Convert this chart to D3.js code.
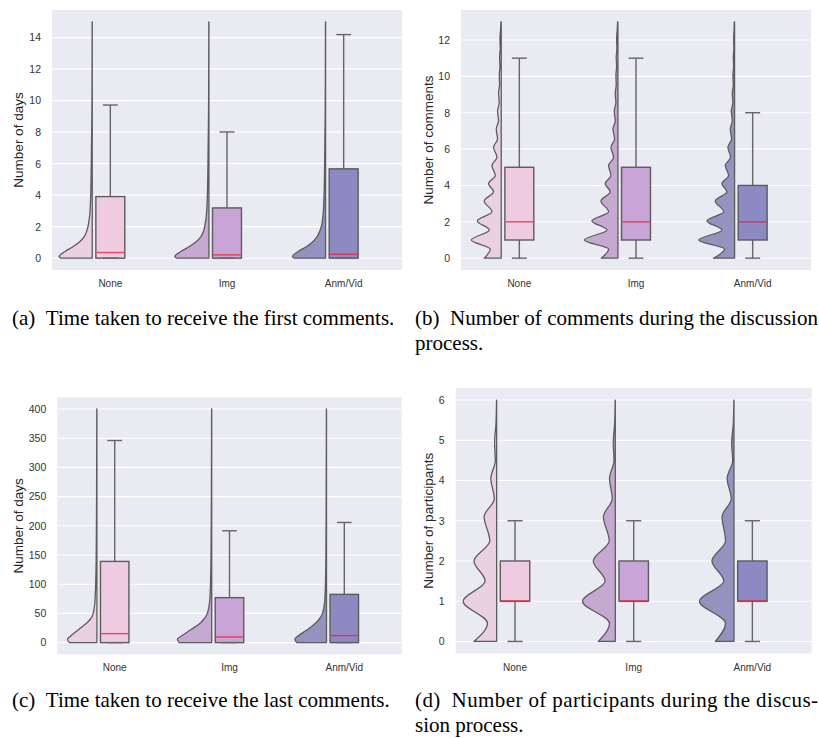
<!DOCTYPE html>
<html lang="en">
<head>
  <meta charset="UTF-8">
  <title>Discussion timing violins</title>
  <script src="https://d3js.org/d3.v7.min.js"></script>
  <style>
    body {
      margin: 0;
      background: #fff;
    }
    svg {
      display: block;
    }
    .tick-y {
      font-family: "Liberation Sans", Arial, sans-serif;
      font-size: 10.5px;
      fill: #333;
    }
    .tick-x {
      font-family: "Liberation Sans Narrow", "Liberation Sans", sans-serif;
      font-size: 10px;
      fill: #333;
    }
    .axis-label {
      font-family: "Liberation Sans", Arial, sans-serif;
      font-size: 13.5px;
      fill: #262626;
    }
    .caption {
      font-family: "Liberation Serif", "Times New Roman", serif;
      font-size: 21px;
      fill: #000;
    }
  </style>
</head>
<body>
  <svg width="819" height="738"></svg>
  <script>
    const cats = ["None", "Img", "Anm/Vid"];

    // box stats per category: [low whisker, q1, median, q3, high whisker]
    const aBox = [[0, 0, 0.36, 3.91, 9.72], [0, 0, 0.21, 3.19, 8.01], [0, 0, 0.25, 5.67, 14.19]];
    const bBox = [[0, 1, 2, 5, 11], [0, 1, 2, 5, 11], [0, 1, 2, 4, 8]];
    const cBox = [[0, 0, 15.4, 139, 346], [0, 0, 9.7, 77, 191.5], [0, 0, 12, 82.6, 205.7]];
    const dBox = [[0, 1, 1, 2, 3], [0, 1, 1, 2, 3], [0, 1, 1, 2, 3]];

    // kde samples (value positions and relative density)
    const aKdeY = [0, 0.1, 0.42, 0.74, 1.06, 1.37, 1.69, 2.0, 2.64, 3.7, 5.8, 10, 15];
    const aKde = [
      [31.3, 33.3, 27.3, 19, 12.3, 8, 5.7, 4.3, 2.7, 1.7, 1, 0.3, 0.1],
      [32.3, 34.3, 28, 19.5, 12.5, 8, 5.5, 4.3, 2.7, 1.7, 1, 0.3, 0.1],
      [31.3, 33.3, 27.5, 19, 12.5, 8.5, 6, 4.3, 2.7, 1.7, 1, 0.3, 0.1]
    ];

    const bKdeY = [0, 0.5, 1, 1.55, 2.05, 2.55, 3.15, 3.65, 4.1, 4.55, 5.1, 5.55, 6.1, 6.55,
                   7.1, 7.55, 8.1, 8.55, 9.05, 9.55, 10.05, 10.55, 11.05, 11.55, 12.05, 12.55, 13];
    const bKde = [
      [17, 11, 30, 12, 24, 9.3, 17, 7.7, 12.7, 6, 9.3, 4.3, 7.7, 3.7, 5, 2.7, 3.7, 2, 2.7, 1.7, 2, 1.3, 1.7, 1, 1.3, 0.7, 0.3],
      [16.7, 9.3, 33.7, 11, 26, 9.3, 17, 7.7, 12.7, 7, 9.3, 4.3, 7, 3.3, 5, 2.7, 3.7, 2, 2.7, 1.7, 2, 1.3, 1.7, 1, 1.3, 0.7, 0.3],
      [21, 10, 36, 12.7, 27.7, 11, 19.3, 7.7, 12.7, 6, 9.3, 4, 6.7, 3, 4.3, 2.3, 3.3, 1.7, 2.3, 1.3, 1.7, 1, 1.3, 0.7, 1, 0.5, 0.3]
    ];

    const cKdeY = [0, 5.7, 11.4, 22.8, 34, 40, 45.6, 57, 80, 148, 262, 400];
    const cKde = [
      [28, 30, 26.7, 18.3, 10, 6.7, 4.7, 3, 1.7, 0.7, 0.3, 0.1],
      [33, 35, 30.7, 20.7, 11.3, 8, 5.7, 3.3, 1.7, 0.7, 0.3, 0.1],
      [30.3, 32.3, 29, 19, 10.7, 7.5, 5.3, 3, 1.5, 0.6, 0.3, 0.1]
    ];

    const dKdeY = [0, 0.45, 1, 1.5, 2, 2.5, 3.1, 3.55, 4.05, 4.5, 4.95, 5.4, 6];
    const dKde = [
      [22.3, 9, 33, 11.3, 22.3, 6.7, 12.3, 2.3, 5.7, 1.3, 2, 0.7, 0.1],
      [16.7, 5.7, 32.3, 10, 21.7, 6, 11.7, 3, 5.7, 1.3, 2, 0.7, 0.1],
      [18.3, 8.3, 34, 10, 21.7, 8.3, 11.7, 2.7, 6.7, 1.3, 2.3, 0.7, 0.1]
    ];

    const violinFill = ["#e9d1e2", "#c6a9d0", "#9592c0"];
    const boxFill = ["#efcbe2", "#c9a4d6", "#8d89c2"];
    const edge = "#5c5c5c";

    const panels = [
      {left: 52, right: 402, top: 10, bottom: 270, dom: [-0.75, 15.75], ticks: d3.range(0, 15, 2),
       label: "Number of days", labelX: 18, kdeY: aKdeY, kde: aKde, box: aBox},
      {left: 461, right: 811, top: 10, bottom: 270, dom: [-0.65, 13.65], ticks: d3.range(0, 13, 2),
       label: "Number of comments", labelX: 428, kdeY: bKdeY, kde: bKde, box: bBox},
      {left: 57.3, right: 401.7, top: 397.3, bottom: 654.3, dom: [-20, 420], ticks: d3.range(0, 401, 50),
       label: "Number of days", labelX: 18, kdeY: cKdeY, kde: cKde, box: cBox},
      {left: 455.7, right: 811.7, top: 388, bottom: 653.5, dom: [-0.3, 6.3], ticks: d3.range(0, 7, 1),
       label: "Number of participants", labelX: 428, kdeY: dKdeY, kde: dKde, box: dBox}
    ];

    const svg = d3.select("svg");

    panels.forEach(p => {
      const g = svg.append("g");
      const x = d3.scaleLinear().domain([-0.5, 2.5]).range([p.left, p.right]);
      const y = d3.scaleLinear().domain(p.dom).range([p.bottom, p.top]);
      const catPx = x(1) - x(0);
      const w = d3.scaleLinear().domain([0, 36]).range([0, catPx * 0.308]);

      g.append("rect")
        .attr("x", p.left).attr("y", p.top)
        .attr("width", p.right - p.left).attr("height", p.bottom - p.top)
        .attr("fill", "#eaeaf2");

      const yAxis = d3.axisLeft(y).tickValues(p.ticks).tickFormat(d3.format("d"))
        .tickSize(0).tickPadding(11);
      const ax = g.append("g").attr("transform", `translate(${p.left},0)`).call(yAxis);
      ax.select(".domain").remove();
      ax.selectAll("text").attr("class", "tick-y").attr("fill", null);

      g.selectAll(".grid")
        .data(p.ticks)
        .enter().append("line")
          .attr("x1", p.left).attr("x2", p.right)
          .attr("y1", d => y(d)).attr("y2", d => y(d))
          .attr("stroke", "#fff").attr("stroke-width", 1.1);

      g.append("text")
        .attr("class", "axis-label")
        .attr("text-anchor", "middle")
        .attr("transform", `translate(${p.labelX},${(p.top + p.bottom) / 2}) rotate(-90)`)
        .attr("dy", "0.35em")
        .text(p.label);

      cats.forEach((c, i) => {
        const vEdge = x(i - 0.155);
        const pts = p.kdeY.map((v, k) => [v, p.kde[i][k]]);
        const area = d3.area()
          .curve(d3.curveMonotoneY)
          .y(d => y(d[0]))
          .x0(vEdge)
          .x1(d => vEdge - w(d[1]));
        g.append("path")
          .attr("d", area(pts))
          .attr("fill", violinFill[i])
          .attr("stroke", edge)
          .attr("stroke-width", 1.3)
          .attr("stroke-linejoin", "round");

        const [lo, q1, med, q3, hi] = p.box[i];
        const cx = x(i), bw = catPx * 0.248, cap = catPx * 0.128;

        g.append("line")
          .attr("x1", cx).attr("x2", cx).attr("y1", y(q3)).attr("y2", y(hi))
          .attr("stroke", "#666").attr("stroke-width", 1.4);
        g.append("line")
          .attr("x1", cx).attr("x2", cx).attr("y1", y(lo)).attr("y2", y(q1))
          .attr("stroke", "#666").attr("stroke-width", 1.4);
        g.append("rect")
          .attr("x", cx - bw / 2).attr("y", y(q3))
          .attr("width", bw).attr("height", Math.max(0, y(q1) - y(q3)))
          .attr("fill", boxFill[i])
          .attr("stroke", edge).attr("stroke-width", 1.4);
        g.append("line")
          .attr("x1", cx - bw / 2 + 0.8).attr("x2", cx + bw / 2 - 0.8)
          .attr("y1", y(med)).attr("y2", y(med))
          .attr("stroke", "#f0203c").attr("stroke-opacity", 0.8)
          .attr("stroke-width", med === q1 ? 1.8 : 1.4);
        [lo, hi].forEach(v => {
          g.append("line")
            .attr("x1", cx - cap / 2).attr("x2", cx + cap / 2)
            .attr("y1", y(v)).attr("y2", y(v))
            .attr("stroke", "#666").attr("stroke-width", 1.4);
        });

        g.append("text")
          .attr("class", "tick-x")
          .attr("x", cx).attr("y", p.bottom + 17)
          .attr("text-anchor", "middle")
          .text(c);
      });
    });

    // sub-figure captions
    const caps = [
      {x: 12, y: 325, text: "(a)\u2002Time taken to receive the first comments."},
      {x: 415, y: 325, text: "(b)\u2002Number of comments during the discussion", fit: 403},
      {x: 415, y: 350, text: "process."},
      {x: 12, y: 707, text: "(c)\u2002Time taken to receive the last comments."},
      {x: 415, y: 707, text: "(d)\u2002Number of participants during the discus-", fit: 403},
      {x: 415, y: 732, text: "sion process."}
    ];
    caps.forEach(c => {
      const t = svg.append("text")
        .attr("class", "caption")
        .attr("x", c.x).attr("y", c.y)
        .text(c.text);
      if (c.fit) t.attr("textLength", c.fit).attr("lengthAdjust", "spacing");
    });
  </script>
</body>
</html>
